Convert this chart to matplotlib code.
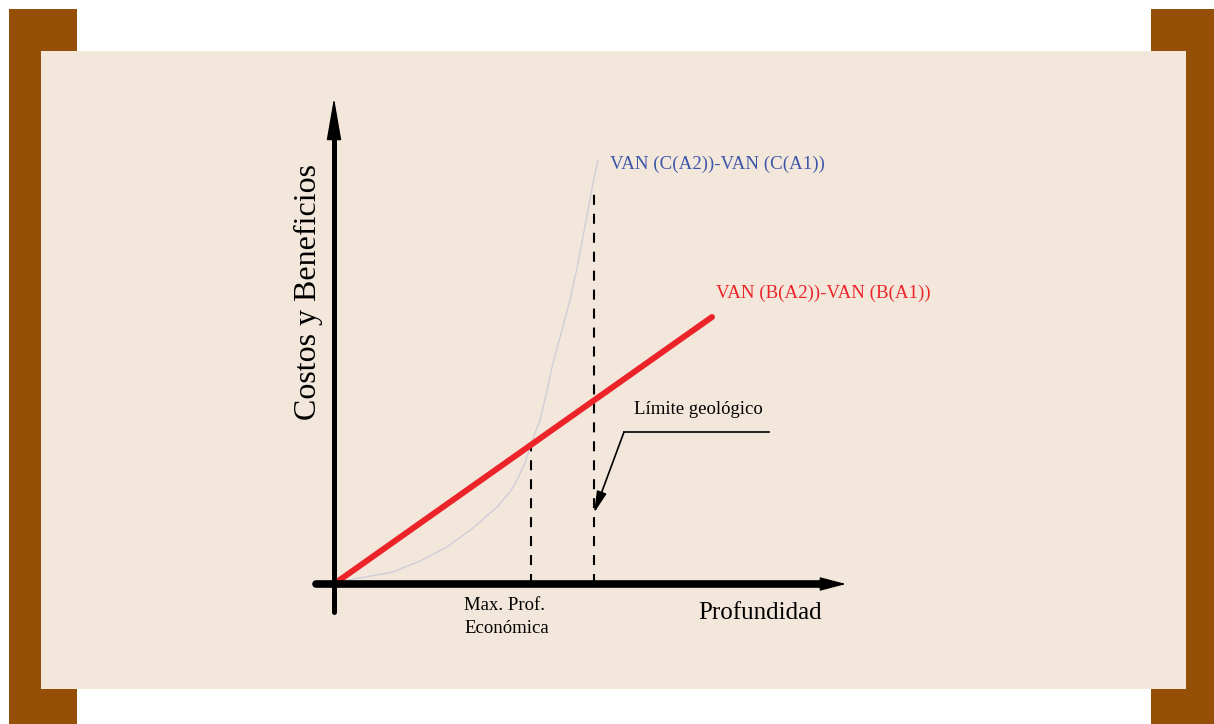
#!/usr/bin/env python3
"""
Schematic: economic maximum depth vs geological limit.
Incremental NPV of costs vs incremental NPV of benefits over depth.
"""
import matplotlib
matplotlib.use("Agg")
import matplotlib.pyplot as plt
from matplotlib.patches import Rectangle

# -------------------------
# Data (schematic units, origin at axes crossing)
# -------------------------
cost_depth = [0.0, 0.06, 0.52, 1.18, 1.72, 2.26, 2.78, 3.26, 3.52, 3.66, 3.82,
              3.92, 4.02, 4.12, 4.24, 4.38, 4.56, 4.72, 4.86, 4.98, 5.08, 5.18, 5.28]
cost_value = [0.0, 0.04, 0.12, 0.24, 0.46, 0.74, 1.12, 1.54, 1.84, 2.08, 2.42,
              2.74, 3.02, 3.28, 3.78, 4.42, 5.08, 5.68, 6.32, 6.94, 7.48, 8.02, 8.48]

benefit_depth = [0.0, 7.56]
benefit_value = [0.0, 5.34]

econ_max_depth = 3.94      # where benefit line meets cost curve
econ_max_value = 2.78
geo_limit_depth = 5.2
geo_limit_top = 7.88

cost_label = "VAN (C(A2))-VAN (C(A1))"
benefit_label = "VAN (B(A2))-VAN (B(A1))"
limit_label = "Límite geológico"
econ_label = "Max. Prof.\nEconómica"
x_label = "Profundidad"
y_label = "Costos y Beneficios"

# colours
brown = "#964F06"
beige = "#F3E7DC"
red = "#EC2429"
blue = "#3D57A8"
curve_col = "#CCCBD8"

plt.rcParams['font.family'] = ['Liberation Serif', 'DejaVu Serif']

W, H = 1214, 724
fig = plt.figure(figsize=(W / 100, H / 100), dpi=100)
fig.patch.set_facecolor("white")

# background axes for the brown frame strips
bg = fig.add_axes([0, 0, 1, 1])
bg.set_xlim(0, W)
bg.set_ylim(H, 0)
bg.axis("off")
bg.add_patch(Rectangle((9, 9), 68, 715, facecolor=brown, edgecolor="none"))
bg.add_patch(Rectangle((1151, 9), 63, 715, facecolor=brown, edgecolor="none"))

# beige panel = the plotting axes
ax = fig.add_axes([41 / W, 35 / H, 1145 / W, 638 / H])
ax.set_zorder(2)
ax.set_facecolor(beige)
ax.set_xlim(-5.86, 17.04)
ax.set_ylim(-2.1, 10.66)
for s in ax.spines.values():
    s.set_visible(False)
ax.set_xticks([])
ax.set_yticks([])

# -------------------------
# Axes arrows
# -------------------------
ax.plot([-0.36, 9.9], [0, 0], color="black", lw=5.5, solid_capstyle="round", zorder=5)
ax.annotate("", xy=(10.24, 0), xytext=(9.7, 0),
            arrowprops=dict(arrowstyle="-|>,head_length=1.65,head_width=0.43",
                            color="black", lw=1, shrinkA=0, shrinkB=0, mutation_scale=10),
            zorder=6)
ax.plot([0, 0], [-0.56, 9.0], color="black", lw=3.6, solid_capstyle="round", zorder=5)
ax.annotate("", xy=(0, 9.72), xytext=(0, 8.8),
            arrowprops=dict(arrowstyle="-|>,head_length=2.7,head_width=0.47",
                            color="black", lw=1, shrinkA=0, shrinkB=0, mutation_scale=10),
            zorder=6)

# -------------------------
# Curves
# -------------------------
ax.plot(cost_depth, cost_value, color=curve_col, lw=0.9, zorder=3)
ax.plot(benefit_depth, benefit_value, color=red, lw=4.3, solid_capstyle="round", zorder=4)

# dashed guides
ax.plot([econ_max_depth, econ_max_depth], [0, econ_max_value], color="black",
        lw=1.5, dashes=(4.8, 4.3), zorder=2)
ax.plot([geo_limit_depth, geo_limit_depth], [0, geo_limit_top], color="black",
        lw=1.5, dashes=(4.8, 4.3), zorder=2)

# geological limit leader
ax.plot([5.8, 8.7], [3.04, 3.04], color="black", lw=1.2, zorder=4)
ax.annotate("", xy=(geo_limit_depth, 1.42), xytext=(5.8, 3.04),
            arrowprops=dict(arrowstyle="-|>,head_length=1.3,head_width=0.3",
                            color="black", lw=1.2, shrinkA=0, shrinkB=0, mutation_scale=10),
            zorder=4)

# -------------------------
# Text
# -------------------------
ax.text(5.52, 8.4, cost_label, color=blue, fontsize=13.6, ha="left", va="center")
ax.text(7.64, 5.82, benefit_label, color=red, fontsize=13.6, ha="left", va="center")
ax.text(6.0, 3.48, limit_label, color="black", fontsize=13.5, ha="left", va="center")
ax.text(2.6, -0.26, econ_label, color="black", fontsize=13.5, ha="left", va="top",
        linespacing=1.45, multialignment="left")
ax.text(7.28, -0.58, x_label, color="black", fontsize=18, ha="left", va="center")
ax.text(-0.52, 5.85, y_label, color="black", fontsize=23, ha="center", va="center",
        rotation=90)

fig.savefig("out.png", dpi=100, facecolor="white")
